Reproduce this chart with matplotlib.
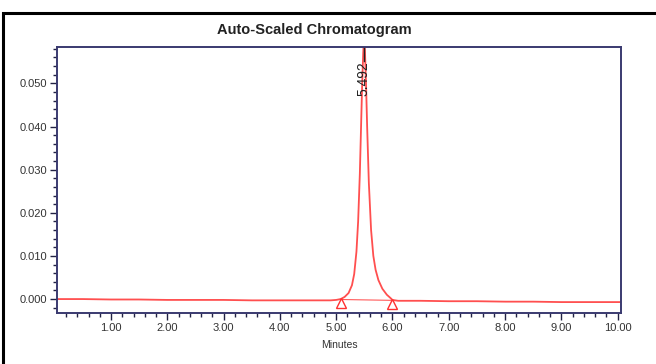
#!/usr/bin/env python3
"""Auto-scaled chromatogram: single peak at 5.492 min."""

import matplotlib
matplotlib.use("Agg")
import matplotlib.pyplot as plt
from matplotlib.ticker import MultipleLocator, FormatStrFormatter
from matplotlib.patches import Rectangle

# --------------------------------------------------------------------------- #
# Data
# --------------------------------------------------------------------------- #
TIME_MIN = [0.04, 0.50, 1.00, 1.50, 2.00, 2.50, 3.00, 3.50, 4.00, 4.50, 4.90,
            5.00, 5.08, 5.15, 5.22, 5.28, 5.32, 5.36, 5.39, 5.42, 5.44, 5.46,
            5.48, 5.492, 5.51, 5.53, 5.55, 5.58, 5.62, 5.66, 5.70, 5.75, 5.82,
            5.90, 5.96, 6.00, 6.10, 6.50, 7.00, 7.50, 8.00, 8.50, 9.00, 9.50,
            10.06]
ABSORBANCE = [0.0000, 0.0000, -0.0001, -0.0001, -0.0002, -0.0002, -0.0002,
              -0.0003, -0.0003, -0.0003, -0.0003,
              -0.0002, 0.0000, 0.0005, 0.0014, 0.0032, 0.0058, 0.0110, 0.0180,
              0.0290, 0.0390, 0.0490,
              0.0570, 0.0600, 0.0580, 0.0500, 0.0400, 0.0270, 0.0160, 0.0100,
              0.0068, 0.0044, 0.0024,
              0.0010, 0.0003, -0.0002, -0.0004, -0.0004, -0.0005, -0.0005,
              -0.0006, -0.0006, -0.0007, -0.0007, -0.0007]

PEAK_RT = 5.492
PEAK_LABEL = "5.492"
BASELINE_T = [5.08, 6.00]
BASELINE_Y = [-0.0001, -0.0003]

TITLE = "Auto-Scaled Chromatogram"
X_LABEL = "Minutes"
XLIM = (0.04, 10.06)
YLIM = (-0.0033, 0.0585)

SPINE_COLOR = "#3a3a70"
TRACE_COLOR = "#ff3030"
TEXT_COLOR = "#333333"


def main() -> None:
    plt.rcParams["font.family"] = ["Liberation Sans", "DejaVu Sans"]

    fig = plt.figure(figsize=(6.56, 3.64), dpi=100)
    ax = fig.add_axes([57 / 656, 1 - 313.3 / 364, (621 - 57) / 656, (313.3 - 46.7) / 364])

    # outer frame (only top and left edges visible in the crop)
    fig.add_artist(Rectangle((3 / 656, -0.1), 1.1, 1.1 - 12.5 / 364,
                             transform=fig.transFigure, fill=False,
                             edgecolor="black", linewidth=2.2, clip_on=False))

    ax.plot(TIME_MIN, ABSORBANCE, color=TRACE_COLOR, linewidth=1.3, alpha=0.85)
    ax.plot(BASELINE_T, BASELINE_Y, color=TRACE_COLOR, linewidth=0.8, alpha=0.8)
    ax.plot(BASELINE_T, [y - 0.0009 for y in BASELINE_Y], linestyle="none",
            marker="^", markersize=7, markerfacecolor="white",
            markeredgecolor=TRACE_COLOR, markeredgewidth=1.0)

    # peak label
    ax.plot([PEAK_RT, PEAK_RT], [0.0553, YLIM[1]], color="#222222", linewidth=1.0)
    ax.text(PEAK_RT, 0.0552, PEAK_LABEL, rotation=90, ha="center", va="top",
            fontsize=10, color="#222222")

    ax.set_xlim(*XLIM)
    ax.set_ylim(*YLIM)
    ax.xaxis.set_major_locator(MultipleLocator(1.0))
    ax.xaxis.set_minor_locator(MultipleLocator(0.2))
    ax.yaxis.set_major_locator(MultipleLocator(0.01))
    ax.yaxis.set_minor_locator(MultipleLocator(0.002))
    ax.xaxis.set_major_formatter(FormatStrFormatter("%.2f"))
    ax.yaxis.set_major_formatter(FormatStrFormatter("%.3f"))

    ax.tick_params(axis="both", which="major", length=5, width=1.0,
                   color="#222244", labelsize=8, labelcolor=TEXT_COLOR, pad=2)
    ax.tick_params(axis="both", which="minor", length=3, width=1.0,
                   color="#222244")
    for side in ax.spines.values():
        side.set_color(SPINE_COLOR)
        side.set_linewidth(1.4)

    ax.set_xlabel(X_LABEL, fontsize=7.5, color=TEXT_COLOR, labelpad=5)
    fig.text(314 / 656, 1 - 30 / 364, TITLE, ha="center", va="center",
             fontsize=10.5, fontweight="bold", color="#222222")

    fig.savefig("out.png", dpi=100)
    plt.close(fig)


if __name__ == "__main__":
    main()
